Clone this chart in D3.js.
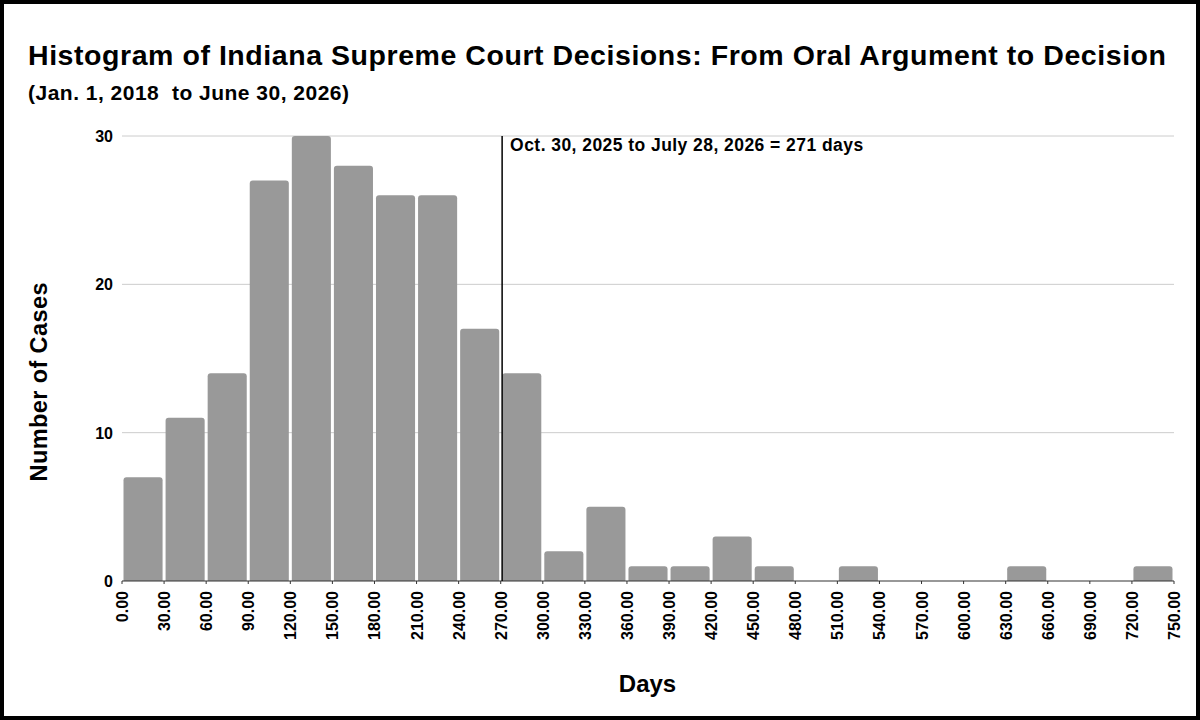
<!DOCTYPE html>
<html>
<head>
<meta charset="utf-8">
<script src="https://cdn.jsdelivr.net/npm/d3@7"></script>
<style>
  html, body { margin: 0; padding: 0; background: #fff; }
  svg { display: block; font-family: "Liberation Sans", Arial, sans-serif; }
</style>
</head>
<body>
<svg id="chart" width="1200" height="720"></svg>
<script>
// bin starts (days) and counts
var binStarts = [0, 30, 60, 90, 120, 150, 180, 210, 240, 270, 300, 330, 360, 390, 420, 450, 480, 510, 540, 570, 600, 630, 660, 690, 720];
var counts = [7, 11, 14, 27, 30, 28, 26, 26, 17, 14, 2, 5, 1, 1, 3, 1, 0, 1, 0, 0, 0, 1, 0, 0, 1];
var binWidth = 30;
var xTicks = d3.range(0, 751, 30);
var yTicks = [0, 10, 20, 30];
var markerDays = 271;
var markerLabel = 'Oct. 30, 2025 to July 28, 2026 = 271 days';

var svg = d3.select('#chart');
var W = 1200, H = 720;

// outer frame
svg.append('rect')
    .attr('x', 2).attr('y', 2)
    .attr('width', W - 4).attr('height', H - 4)
    .attr('fill', '#fff')
    .attr('stroke', '#000')
    .attr('stroke-width', 4);

var margin = { left: 122, right: 26, top: 136, bottom: 139 };

var x = d3.scaleLinear()
    .domain([0, 750])
    .range([margin.left, W - margin.right]);

var y = d3.scaleLinear()
    .domain([0, 30])
    .range([H - margin.bottom, margin.top]);

// titles
svg.append('text')
    .attr('x', 28).attr('y', 65)
    .attr('font-size', 28.5).attr('font-weight', 'bold')
    .attr('fill', '#000')
    .attr('textLength', 1138).attr('lengthAdjust', 'spacing')
    .text('Histogram of Indiana Supreme Court Decisions: From Oral Argument to Decision');

svg.append('text')
    .attr('x', 28).attr('y', 100)
    .attr('font-size', 21).attr('font-weight', 'bold')
    .attr('fill', '#000')
    .attr('textLength', 321).attr('lengthAdjust', 'spacing')
    .style('white-space', 'pre')
    .text('(Jan. 1, 2018  to June 30, 2026)');

// gridlines
svg.append('g')
    .selectAll('line')
    .data(yTicks.filter(function(d) { return d > 0; }))
    .enter().append('line')
    .attr('x1', x(0)).attr('x2', x(750))
    .attr('y1', function(d) { return y(d); })
    .attr('y2', function(d) { return y(d); })
    .attr('stroke', '#cccccc')
    .attr('stroke-width', 1);

// y tick labels
svg.append('g')
    .selectAll('text')
    .data(yTicks)
    .enter().append('text')
    .attr('x', x(0) - 9)
    .attr('y', function(d) { return y(d) + 6; })
    .attr('text-anchor', 'end')
    .attr('font-size', 16).attr('font-weight', 'bold')
    .attr('fill', '#000')
    .text(function(d) { return d; });

// bars, with rounded top corners
function barPath(d, i) {
    var x0 = x(d) + 1.5, x1 = x(d + binWidth) - 1.5;
    var y0 = y(0), y1 = y(counts[i]);
    var r = Math.min(3, (y0 - y1) / 2);
    return 'M' + x0 + ',' + y0 +
        'V' + (y1 + r) +
        'Q' + x0 + ',' + y1 + ' ' + (x0 + r) + ',' + y1 +
        'H' + (x1 - r) +
        'Q' + x1 + ',' + y1 + ' ' + x1 + ',' + (y1 + r) +
        'V' + y0 + 'Z';
}

svg.append('g')
    .selectAll('path')
    .data(binStarts)
    .enter().filter(function(d, i) { return counts[i] > 0; })
    .append('path')
    .attr('d', function(d) { return barPath(d, binStarts.indexOf(d)); })
    .attr('fill', '#999999');

// baseline
svg.append('line')
    .attr('x1', x(0)).attr('x2', x(750))
    .attr('y1', y(0)).attr('y2', y(0))
    .attr('stroke', '#333')
    .attr('stroke-width', 1.2);

// x axis ticks + rotated labels
var xAxis = svg.append('g')
    .attr('transform', 'translate(0,' + y(0) + ')');

xAxis.selectAll('line')
    .data(xTicks)
    .enter().append('line')
    .attr('x1', function(d) { return x(d); })
    .attr('x2', function(d) { return x(d); })
    .attr('y1', 0).attr('y2', 3)
    .attr('stroke', '#333');

xAxis.selectAll('text')
    .data(xTicks)
    .enter().append('text')
    .attr('transform', function(d) { return 'translate(' + (x(d) + 6) + ',10) rotate(-90)'; })
    .attr('text-anchor', 'end')
    .attr('font-size', 16).attr('font-weight', 'bold')
    .attr('fill', '#000')
    .text(function(d) { return d3.format('.2f')(d); });

// marker line
svg.append('line')
    .attr('x1', x(markerDays)).attr('x2', x(markerDays))
    .attr('y1', y(30)).attr('y2', y(0))
    .attr('stroke', '#000')
    .attr('stroke-width', 1.5);

svg.append('text')
    .attr('x', x(markerDays) + 8).attr('y', y(30) + 15)
    .attr('font-size', 17.5).attr('font-weight', 'bold')
    .attr('fill', '#000')
    .attr('textLength', 353).attr('lengthAdjust', 'spacing')
    .text(markerLabel);

// axis titles
svg.append('text')
    .attr('transform', 'translate(47,382) rotate(-90)')
    .attr('text-anchor', 'middle')
    .attr('font-size', 23.5).attr('font-weight', 'bold')
    .attr('fill', '#000')
    .attr('textLength', 199).attr('lengthAdjust', 'spacing')
    .text('Number of Cases');

svg.append('text')
    .attr('x', 647.5).attr('y', 692)
    .attr('text-anchor', 'middle')
    .attr('font-size', 24).attr('font-weight', 'bold')
    .attr('fill', '#000')
    .text('Days');
</script>
</body>
</html>
